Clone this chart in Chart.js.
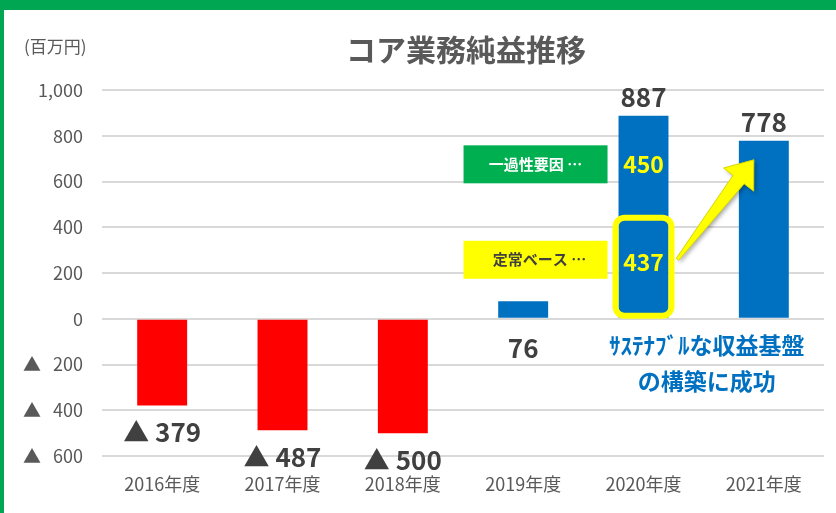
<!DOCTYPE html>
<html>
<head>
<meta charset="utf-8">
<script src="https://cdn.jsdelivr.net/npm/chart.js@4"></script>
<style>
	html, body { margin: 0; padding: 0; background: #fff; }
	canvas { display: block; }
</style>
</head>
<body>
<canvas id="chart-core-profit" width="836" height="513"></canvas>
<script>
// Chart data
const YEARS = ["2016年度", "2017年度", "2018年度", "2019年度", "2020年度", "2021年度"];
const CORE_PROFIT = [-379, -487, -500, 76, 887, 778];
// 2020年度 breakdown
const RECURRING_2020 = 437;
const ONE_OFF_2020 = 450;
const BAR_COLORS = ["#FF0000", "#FF0000", "#FF0000", "#0070C0", "#0070C0", "#0070C0"];

const FONT = "'Noto Sans CJK JP', 'Noto Sans', sans-serif";
const fmt = (v) => (v < 0 ? "▲ " + Math.abs(v) : v.toLocaleString("en-US"));

// Frame, title, unit
const frame = {
	id: "frame",
	beforeDraw(chart) {
		const { ctx } = chart;
		ctx.save();
		ctx.fillStyle = "#fff";
		ctx.fillRect(0, 0, chart.width, chart.height);
		ctx.fillStyle = "#00A651";
		ctx.fillRect(0, 0, chart.width, 10);
		ctx.fillRect(0, 0, 4, chart.height);
		ctx.fillStyle = "#595959";
		ctx.textBaseline = "middle";
		ctx.font = "17px " + FONT;
		ctx.textAlign = "left";
		ctx.fillText("(百万円)", 24, 47);
		ctx.font = "bold 30px " + FONT;
		ctx.textAlign = "center";
		ctx.fillText("コア業務純益推移", 466, 50);
		ctx.restore();
	},
};

// Value labels and callouts
const callouts = {
	id: "callouts",
	afterDatasetsDraw(chart) {
		const { ctx } = chart;
		const y = chart.scales.y;
		const bars = chart.getDatasetMeta(0).data;
		ctx.save();
		ctx.textAlign = "center";
		ctx.textBaseline = "middle";

		// totals
		ctx.fillStyle = "#404040";
		ctx.font = "bold 26px " + FONT;
		CORE_PROFIT.forEach((v, i) => {
			let py;
			if (v < 0) py = y.getPixelForValue(v) + 27;
			else if (v < 150) py = y.getPixelForValue(0) + 29;
			else py = y.getPixelForValue(v) - 19;
			ctx.fillText(fmt(v), bars[i].x, py);
		});

		const b20 = bars[4];
		const b21 = bars[5];

		// legend boxes
		const boxRight = b20.x - b20.width / 2 - 11;
		const boxLeft = boxRight - 144;
		const gY = y.getPixelForValue(RECURRING_2020 + ONE_OFF_2020 / 2) - 3;
		const rY = y.getPixelForValue(RECURRING_2020 / 2) - 9;
		ctx.fillStyle = "#00B050";
		ctx.fillRect(boxLeft, gY - 19, 144, 38);
		ctx.fillStyle = "#FFFF00";
		ctx.fillRect(boxLeft, rY - 19, 144, 38);
		ctx.font = "bold 15px " + FONT;
		ctx.fillStyle = "#fff";
		ctx.fillText("一過性要因 …", boxLeft + 72, gY);
		ctx.fillStyle = "#404040";
		ctx.fillText("定常ベース …", boxLeft + 76, rY);

		// breakdown values in the 2020 bar
		ctx.fillStyle = "#FFFF00";
		ctx.font = "bold 23px " + FONT;
		ctx.fillText(String(ONE_OFF_2020), b20.x, gY);
		ctx.fillText(String(RECURRING_2020), b20.x, rY + 2);

		// highlight round box
		const top = y.getPixelForValue(RECURRING_2020) - 1;
		const bottom = y.getPixelForValue(0) - 3;
		ctx.strokeStyle = "#FFFF00";
		ctx.lineWidth = 6;
		ctx.beginPath();
		ctx.roundRect(b20.x - 28, top, 56, bottom - top, 9);
		ctx.stroke();

		// arrow
		const T = { x: b20.x + 34, y: y.getPixelForValue(260) };
		const P = { x: b21.x - 10, y: y.getPixelForValue(695) };
		const L = Math.hypot(P.x - T.x, P.y - T.y);
		const u = { x: (P.x - T.x) / L, y: (P.y - T.y) / L };
		const n = { x: -u.y, y: u.x };
		const B = { x: P.x - u.x * 25, y: P.y - u.y * 25 };
		const pt = (o, k) => [o.x + n.x * k, o.y + n.y * k];
		const poly = [pt(T, 1.5), pt(B, 7), pt(B, 19), [P.x, P.y], pt(B, -19), pt(B, -7), pt(T, -1.5)];
		ctx.save();
		ctx.shadowColor = "rgba(0,0,0,0.35)";
		ctx.shadowBlur = 4;
		ctx.shadowOffsetX = 2;
		ctx.shadowOffsetY = 2;
		ctx.fillStyle = "#FFFF00";
		ctx.beginPath();
		poly.forEach(([px, py], i) => (i ? ctx.lineTo(px, py) : ctx.moveTo(px, py)));
		ctx.closePath();
		ctx.fill();
		ctx.restore();
		ctx.strokeStyle = "#D8D800";
		ctx.lineWidth = 1;
		ctx.stroke();

		// message
		ctx.fillStyle = "#0070C0";
		ctx.font = "bold 23px " + FONT;
		const mx = (b20.x + b21.x) / 2 + 3;
		ctx.fillText("ｻｽﾃﾅﾌﾞﾙな収益基盤", mx, y.getPixelForValue(0) + 27);
		ctx.fillText("の構築に成功", mx, y.getPixelForValue(0) + 63);
		ctx.restore();
	},
};

// Chart config
const CONFIG = {
	type: "bar",
	data: {
		labels: YEARS,
		datasets: [
			{
				data: CORE_PROFIT,
				backgroundColor: BAR_COLORS,
				borderWidth: 0,
				barPercentage: 0.415,
				categoryPercentage: 1,
			},
		],
	},
	options: {
		responsive: false,
		animation: false,
		devicePixelRatio: 1,
		layout: {
			padding: { top: 90, right: 12, bottom: 0, left: 0 },
		},
		plugins: {
			legend: { display: false },
			title: { display: false },
			tooltip: { enabled: false },
		},
		scales: {
			x: {
				border: { display: false },
				grid: { display: false, drawTicks: false },
				ticks: {
					color: "#595959",
					padding: 17,
					font: { family: FONT, size: 18 },
				},
				afterFit(scale) {
					scale.height = 57;
				},
			},
			y: {
				min: -600,
				max: 1000,
				border: { display: false },
				grid: { color: "#D9D9D9", lineWidth: 2, drawTicks: false },
				ticks: {
					stepSize: 200,
					color: "#595959",
					padding: 19,
					font: { family: FONT, size: 18 },
					callback: (v) => (v < 0 ? "▲   " + Math.abs(v) : v.toLocaleString("en-US")),
				},
				afterFit(scale) {
					scale.width = 102;
				},
			},
		},
	},
	plugins: [frame, callouts],
};

// Init chart
new Chart(document.getElementById("chart-core-profit"), CONFIG);
</script>
</body>
</html>
